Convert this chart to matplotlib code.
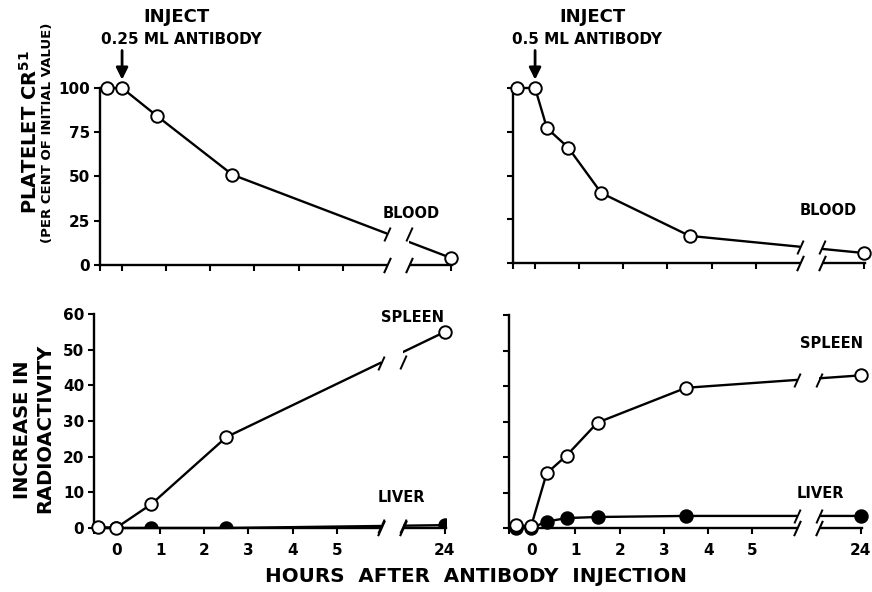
import numpy as np
import matplotlib
matplotlib.use('Agg')
import matplotlib.pyplot as plt
from matplotlib.patches import Rectangle
import matplotlib.transforms as mtransforms

plt.rcParams['font.family'] = ['DejaVu Sans']
plt.rcParams['font.weight'] = 'bold'
plt.rcParams['mathtext.default'] = 'bf'

# ---------------- data ----------------
hours_tl = [-0.35, 0, 0.8, 2.5, 24]
blood_tl = [100, 100, 84, 51, 4]

hours_tr = [-0.4, 0, 0.27, 0.75, 1.5, 3.5, 24]
blood_tr = [100, 100, 77, 66, 40, 15.5, 5.7]

hours_bl = [-0.4, 0, 0.8, 2.5, 24]
spleen_bl = [0.3, 0, 6.7, 25.5, 55]
liver_bl = [0, 0, 0, 0, 0.8]

hours_br = [-0.35, 0, 0.35, 0.8, 1.5, 3.5, 24]
spleen_br = [0.8, 0.5, 15.4, 20.4, 29.7, 39.5, 43]
liver_br = [0, 0, 1.8, 2.8, 3.1, 3.4, 3.4]

xtick_vals = [-0.5, 0, 1, 2, 3, 4, 5, 24]
xtick_labels = ['', '0', '1', '2', '3', '4', '5', '24']
blood_yticks = [0, 25, 50, 75, 100]
organ_yticks = [0, 10, 20, 30, 40, 50, 60]

# ---------------- broken x scale ----------------
BREAK = 6.0
K = 1.45 / 18.0


def fwd(x):
    x = np.asarray(x, float)
    return np.where(x <= BREAK, x, BREAK + (x - BREAK) * K)


def inv(u):
    u = np.asarray(u, float)
    return np.where(u <= BREAK, u, BREAK + (u - BREAK) / K)


GAP0 = BREAK
GAP1 = float(inv(6.5))

W, H = 872, 592
fig = plt.figure(figsize=(W / 100, H / 100), dpi=100)


def make_ax(l, t, w, h):
    return fig.add_axes([l / W, 1 - (t + h) / H, w / W, h / H])


SLASH = [(-0.45, -1.0), (0.45, 1.0)]
LW = 1.7


def setup(ax, ylim, yticks, show_ylabels, show_xlabels):
    ax.set_xscale('function', functions=(fwd, inv))
    ax.set_xlim(-0.5, 24.3)
    ax.set_ylim(*ylim)
    for s in ['top', 'right']:
        ax.spines[s].set_visible(False)
    for s in ['left', 'bottom']:
        ax.spines[s].set_linewidth(LW)
    ax.set_xticks(xtick_vals)
    ax.set_xticklabels(xtick_labels if show_xlabels else [''] * len(xtick_vals))
    ax.set_yticks(yticks)
    if show_ylabels:
        ax.set_yticklabels([str(v) for v in yticks])
    else:
        ax.set_yticklabels([''] * len(yticks))
    ax.tick_params(axis='both', direction='out', length=4, width=1.5,
                   labelsize=11, pad=3)
    ax.tick_params(axis='x', pad=7)
    ax.minorticks_off()
    # gap in the axis
    trans = mtransforms.blended_transform_factory(ax.transData, ax.transAxes)
    ax.add_patch(Rectangle((GAP0, -0.03), GAP1 - GAP0, 1.04, transform=trans,
                           facecolor='white', edgecolor='none', zorder=2.8,
                           clip_on=False))
    ax.plot([GAP0, GAP1], [ylim[0], ylim[0]], ls='none', marker=SLASH, ms=11,
            mew=1.5, color='k', clip_on=False, zorder=5)


def series(ax, hrs, vals, filled, clip=False):
    ax.plot(hrs, vals, '-', color='k', lw=LW, zorder=2, clip_on=False)
    ax.plot(hrs, vals, 'o', ms=9, mew=1.4, mec='k',
            mfc='k' if filled else 'white',
            zorder=3 if filled else 4, clip_on=clip)
    yb = np.interp(fwd([GAP0, 6.5]), fwd(hrs), vals)
    ax.plot([GAP0, GAP1], yb, ls='none', marker=SLASH, ms=10, mew=1.4,
            color='k', clip_on=False, zorder=5)


ax_tl = make_ax(100, 88, 352, 177)
ax_tr = make_ax(513, 88, 352, 175)
ax_bl = make_ax(94, 314, 352, 214)
ax_br = make_ax(509, 315, 353, 213)

setup(ax_tl, (0, 100), blood_yticks, True, False)
setup(ax_tr, (0, 100), blood_yticks, False, False)
setup(ax_bl, (0, 60), organ_yticks, True, True)
setup(ax_br, (0, 60), organ_yticks, False, True)

series(ax_tl, hours_tl, blood_tl, False)
series(ax_tr, hours_tr, blood_tr, False)
series(ax_bl, hours_bl, liver_bl, True, clip=True)
series(ax_bl, hours_bl, spleen_bl, False)
series(ax_br, hours_br, liver_br, True)
series(ax_br, hours_br, spleen_br, False)

# injection arrows
for ax in (ax_tl, ax_tr):
    ax.annotate('', xy=(0, 100), xytext=(0, 27), xycoords='data',
                textcoords='offset points', annotation_clip=False,
                arrowprops=dict(arrowstyle='-|>,head_width=0.35,head_length=0.7',
                                lw=2, color='k', shrinkA=0, shrinkB=6))


def ftext(x, y, s, **kw):
    fig.text(x / W, 1 - y / H, s, **kw)


ftext(176, 17, 'INJECT', ha='center', va='center', fontsize=13)
ftext(181, 40, '0.25 ML ANTIBODY', ha='center', va='center', fontsize=11)
ftext(592, 17, 'INJECT', ha='center', va='center', fontsize=13)
ftext(587, 40, '0.5 ML ANTIBODY', ha='center', va='center', fontsize=11)

ftext(383, 214, 'BLOOD', ha='left', va='center', fontsize=10.5)
ftext(800, 211, 'BLOOD', ha='left', va='center', fontsize=10.5)
ftext(381, 318, 'SPLEEN', ha='left', va='center', fontsize=10.5)
ftext(800, 343, 'SPLEEN', ha='left', va='center', fontsize=10.5)
ftext(378, 497, 'LIVER', ha='left', va='center', fontsize=10.5)
ftext(797, 494, 'LIVER', ha='left', va='center', fontsize=10.5)

ftext(30, 132, r'PLATELET CR$^{\mathbf{51}}$', rotation=90, ha='center',
      va='center', fontsize=14)
ftext(47, 133, '(PER CENT OF INITIAL VALUE)', rotation=90, ha='center',
      va='center', fontsize=9.5)
ftext(22, 430, 'INCREASE IN', rotation=90, ha='center', va='center', fontsize=14)
ftext(45, 428, 'RADIOACTIVITY', rotation=90, ha='center', va='center', fontsize=14)

ftext(476, 577, 'HOURS  AFTER  ANTIBODY  INJECTION', ha='center', va='center',
      fontsize=14.3)

fig.savefig('out.png', dpi=100)
